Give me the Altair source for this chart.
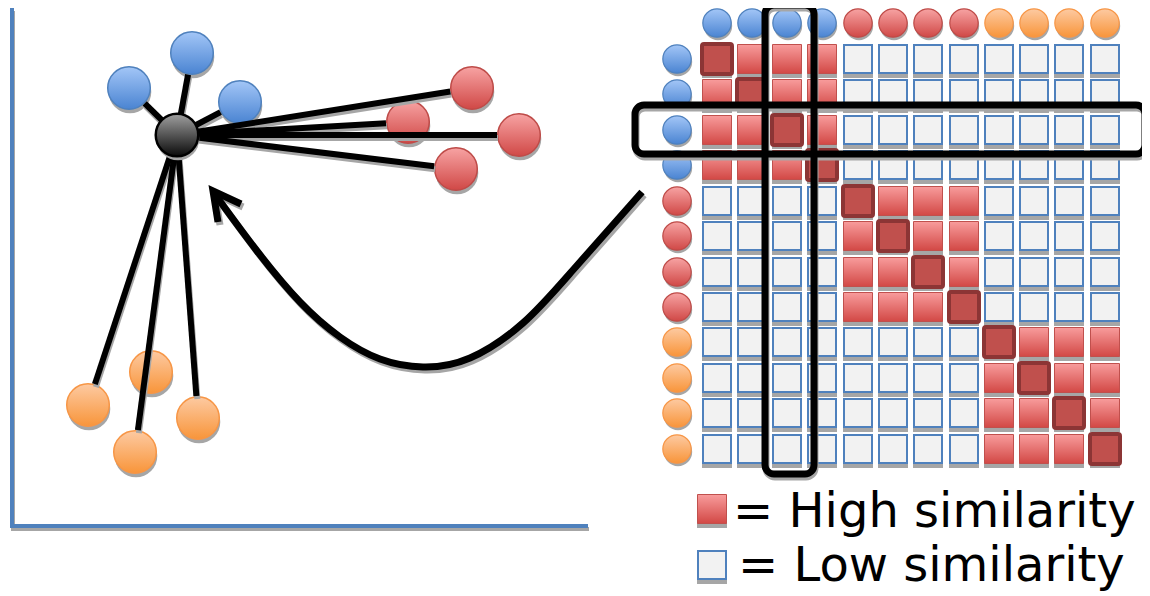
import altair as alt
import numpy as np
import pandas as pd

# ---------------- data (pixel coordinates) ----------------
HUB_X = [177]
HUB_Y = [135]
BLUE_X = [129, 192, 240]
BLUE_Y = [88, 53, 102]
RED_X = [472, 408, 519, 456]
RED_Y = [88, 122, 135, 169]
ORANGE_X = [88, 151, 198, 135]
ORANGE_Y = [405, 372, 418, 452]
# which nodes are linked to the hub (group, index)
EDGE_GROUP = ["blue", "blue", "blue", "red", "red", "red", "red", "orange", "orange", "orange"]
EDGE_INDEX = [0, 1, 2, 0, 1, 2, 3, 0, 3, 2]

ARROW_X = [214, 257, 300, 340, 380, 423, 470, 523, 573, 642]
ARROW_Y = [193, 251, 302, 337, 359, 367, 358, 323, 270, 192]
HEAD_X = [241, 213, 218]
HEAD_Y = [204, 191, 222]

AXIS_X1 = [12, 10]
AXIS_Y1 = [8, 526]
AXIS_X2 = [12, 588]
AXIS_Y2 = [527, 526]

GROUPS = ["blue"] * 4 + ["red"] * 4 + ["orange"] * 4
SIM = [
    "DHHHLLLLLLLL",
    "HDHHLLLLLLLL",
    "HHDHLLLLLLLL",
    "HHHDLLLLLLLL",
    "LLLLDHHHLLLL",
    "LLLLHDHHLLLL",
    "LLLLHHDHLLLL",
    "LLLLHHHDLLLL",
    "LLLLLLLLDHHH",
    "LLLLLLLLHDHH",
    "LLLLLLLLHHDH",
    "LLLLLLLLHHHD",
]
COL_X = [717, 752, 787, 822, 858, 893, 928, 964, 999, 1034, 1069, 1105]
ROW_Y = [59, 94, 130, 165, 201, 236, 272, 307, 342, 378, 413, 449]
HEADER_Y = 23
ROWLABEL_X = 677

BOX_X1 = [635, 765]
BOX_X2 = [1145, 814]
BOX_Y1 = [105, 5]
BOX_Y2 = [154, 474]

LEGEND_KIND = ["H", "L"]
LEGEND_SQ_X = [712, 712]
LEGEND_SQ_Y = [509, 565]
LEGEND_TEXT = ["= High similarity", "= Low similarity"]
LEGEND_TEXT_X = [733, 738]
LEGEND_TEXT_Y = [527, 581]

# ---------------- styles ----------------
SHADOW = "#a6a6a6"
NODE_R = 24
SMALL_R = 16
CELL = 15


def grad(top, bottom):
    return alt.Gradient(
        gradient="linear", x1=0, x2=0, y1=0, y2=1,
        stops=[alt.GradientStop(offset=0, color=top), alt.GradientStop(offset=1, color=bottom)],
    )


FILLS = {
    "blue": (grad("#a3c6f7", "#4a84d2"), "#4f81bd"),
    "red": (grad("#f7a3a3", "#d04846"), "#be4b48"),
    "orange": (grad("#fdcaa2", "#f8953a"), "#f79646"),
    "hub": (grad("#a0a0a0", "#0a0a0a"), "#000000"),
}
HIGH_FILL = grad("#f89c9c", "#d24845")

xs = alt.Scale(domain=[8, 1142], nice=False, zero=False)
ys = alt.Scale(domain=[8, 596], nice=False, zero=False, reverse=True)


def XY(x="x", y="y"):
    return dict(x=alt.X(f"{x}:Q", scale=xs, axis=None), y=alt.Y(f"{y}:Q", scale=ys, axis=None))


def XY2(x="x1", y="y1", x2="x2", y2="y2"):
    d = XY(x, y)
    d.update(x2=alt.X2(f"{x2}:Q"), y2=alt.Y2(f"{y2}:Q"))
    return d


def shift(df, dx, dy, cols_x=("x",), cols_y=("y",)):
    d = df.copy()
    for c in cols_x:
        d[c] = d[c] + dx
    for c in cols_y:
        d[c] = d[c] + dy
    return d


layers = []

# ---------------- left panel: axes ----------------
axes = pd.DataFrame({"x1": AXIS_X1, "y1": AXIS_Y1, "x2": AXIS_X2, "y2": AXIS_Y2})
layers.append(alt.Chart(shift(axes, 1, 3, ("x1", "x2"), ("y1", "y2"))).mark_rule(
    color=SHADOW, strokeWidth=4).encode(**XY2()))
layers.append(alt.Chart(axes).mark_rule(color="#4f81bd", strokeWidth=4).encode(**XY2()))

# ---------------- nodes ----------------
groups_xy = {"blue": (BLUE_X, BLUE_Y), "red": (RED_X, RED_Y), "orange": (ORANGE_X, ORANGE_Y)}
node_size = np.pi * NODE_R ** 2
for g, (gx, gy) in groups_xy.items():
    df = pd.DataFrame({"x": gx, "y": gy})
    layers.append(alt.Chart(shift(df, 1, 4)).mark_circle(
        size=node_size, color=SHADOW, opacity=1).encode(**XY()))
for g, (gx, gy) in groups_xy.items():
    df = pd.DataFrame({"x": gx, "y": gy})
    f, s = FILLS[g]
    layers.append(alt.Chart(df).mark_circle(
        size=node_size, fill=f, stroke=s, strokeWidth=1.5, opacity=1).encode(**XY()))

# ---------------- edges ----------------
ex1, ey1, ex2, ey2 = [], [], [], []
for g, i in zip(EDGE_GROUP, EDGE_INDEX):
    tx, ty = groups_xy[g][0][i], groups_xy[g][1][i]
    vx, vy = tx - HUB_X[0], ty - HUB_Y[0]
    L = np.hypot(vx, vy)
    k = (L - (NODE_R - 2)) / L
    ex1.append(HUB_X[0]); ey1.append(HUB_Y[0])
    ex2.append(HUB_X[0] + vx * k); ey2.append(HUB_Y[0] + vy * k)
edges = pd.DataFrame({"x1": ex1, "y1": ey1, "x2": ex2, "y2": ey2})
layers.append(alt.Chart(shift(edges, 1, 3, ("x1", "x2"), ("y1", "y2"))).mark_rule(
    color=SHADOW, strokeWidth=6).encode(**XY2()))
layers.append(alt.Chart(edges).mark_rule(color="black", strokeWidth=6).encode(**XY2()))

hub = pd.DataFrame({"x": HUB_X, "y": HUB_Y})
layers.append(alt.Chart(shift(hub, 1, 4)).mark_circle(size=node_size, color=SHADOW, opacity=1).encode(**XY()))
layers.append(alt.Chart(hub).mark_circle(
    size=node_size, fill=FILLS["hub"][0], stroke="black", strokeWidth=2.5, opacity=1).encode(**XY()))

# ---------------- arrow ----------------
arrow = pd.DataFrame({"x": ARROW_X, "y": ARROW_Y, "o": range(len(ARROW_X))})
head = pd.DataFrame({"x": HEAD_X, "y": HEAD_Y, "o": range(len(HEAD_X))})
layers.append(alt.Chart(shift(arrow, 2, 3)).mark_line(
    color=SHADOW, strokeWidth=7, interpolate="natural").encode(**XY(), order="o:Q"))
layers.append(alt.Chart(shift(head, 2, 3)).mark_line(
    color=SHADOW, strokeWidth=7, strokeJoin="miter").encode(**XY(), order="o:Q"))
layers.append(alt.Chart(arrow).mark_line(
    color="black", strokeWidth=7, interpolate="natural").encode(**XY(), order="o:Q"))
layers.append(alt.Chart(head).mark_line(
    color="black", strokeWidth=7, strokeJoin="miter", strokeCap="butt").encode(**XY(), order="o:Q"))

# ---------------- matrix ----------------
rows = []
for r, line in enumerate(SIM):
    for c, kind in enumerate(line):
        rows.append({"x": COL_X[c], "y": ROW_Y[r], "kind": kind})
cells = pd.DataFrame(rows)


def rect_df(df, half, dy=0):
    return pd.DataFrame({
        "x1": df["x"] - half, "x2": df["x"] + half,
        "y1": df["y"] - half + dy, "y2": df["y"] + half + dy,
    })


layers.append(alt.Chart(rect_df(cells, CELL, 4)).mark_rect(color=SHADOW).encode(**XY2()))
low = cells[cells.kind == "L"]
high = cells[cells.kind == "H"]
diag = cells[cells.kind == "D"]
layers.append(alt.Chart(rect_df(low, CELL - 1)).mark_rect(
    fill="#f2f2f2", stroke="#4f81bd", strokeWidth=2).encode(**XY2()))
layers.append(alt.Chart(rect_df(high, CELL - 0.5)).mark_rect(
    fill=HIGH_FILL, stroke="#c0504d", strokeWidth=1).encode(**XY2()))
layers.append(alt.Chart(rect_df(diag, CELL)).mark_rect(
    fill="#c0504d", stroke="#8c3535", strokeWidth=4, cornerRadius=2).encode(**XY2()))

# header circles
small_size = np.pi * SMALL_R ** 2
hdr = pd.DataFrame({"x": COL_X, "y": [HEADER_Y] * 12, "g": GROUPS})
lab = pd.DataFrame({"x": [ROWLABEL_X] * 12, "y": ROW_Y, "g": GROUPS})
for df in (hdr, lab):
    layers.append(alt.Chart(shift(df, 1, 3)).mark_circle(size=small_size, color=SHADOW, opacity=1).encode(**XY()))
    for g in ["blue", "red", "orange"]:
        f, s = FILLS[g]
        layers.append(alt.Chart(df[df.g == g]).mark_circle(
            size=small_size, fill=f, stroke=s, strokeWidth=1.2, opacity=1).encode(**XY()))

# highlight boxes
boxes = pd.DataFrame({"x1": BOX_X1, "x2": BOX_X2, "y1": BOX_Y1, "y2": BOX_Y2})
layers.append(alt.Chart(shift(boxes, 1, 3, ("x1", "x2"), ("y1", "y2"))).mark_rect(
    fillOpacity=0, stroke=SHADOW, strokeWidth=7, cornerRadius=9).encode(**XY2()))
for i in range(len(boxes)):
    layers.append(alt.Chart(boxes.iloc[[i]]).mark_rect(
        fillOpacity=0, stroke="black", strokeWidth=7, cornerRadius=9).encode(**XY2()))

# ---------------- legend ----------------
leg = pd.DataFrame({"x": LEGEND_SQ_X, "y": LEGEND_SQ_Y, "kind": LEGEND_KIND})
layers.append(alt.Chart(rect_df(leg, CELL, 4)).mark_rect(color=SHADOW).encode(**XY2()))
layers.append(alt.Chart(rect_df(leg[leg.kind == "H"], CELL - 0.5)).mark_rect(
    fill=HIGH_FILL, stroke="#c0504d", strokeWidth=1).encode(**XY2()))
layers.append(alt.Chart(rect_df(leg[leg.kind == "L"], CELL - 1)).mark_rect(
    fill="#f2f2f2", stroke="#4f81bd", strokeWidth=2).encode(**XY2()))
txt = pd.DataFrame({"x": LEGEND_TEXT_X, "y": LEGEND_TEXT_Y, "t": LEGEND_TEXT})
layers.append(alt.Chart(txt).mark_text(
    font="DejaVu Sans", fontSize=48, align="left", baseline="alphabetic", color="black").encode(
    **XY(), text="t:N"))

chart = alt.layer(*layers).properties(
    width=1134, height=588, padding=0, autosize=alt.AutoSizeParams(type="none")
).configure_view(stroke=None)

chart.save("out.html", embed_options={"renderer": "svg", "actions": False})
